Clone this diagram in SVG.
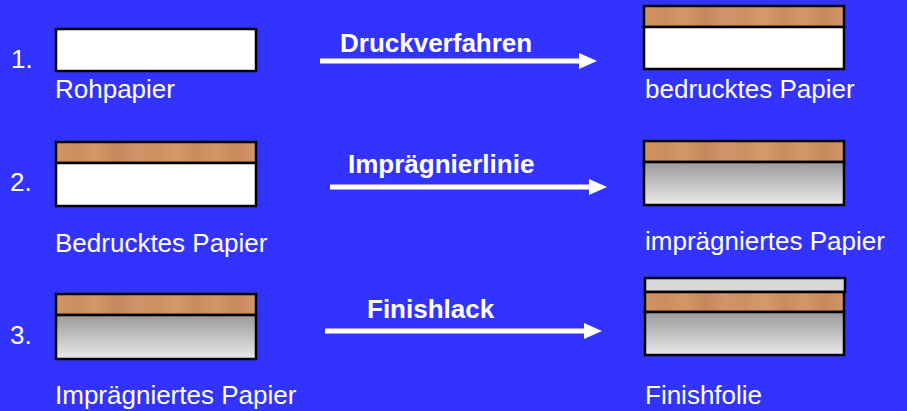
<svg xmlns="http://www.w3.org/2000/svg" width="907" height="411" viewBox="0 0 907 411">
<style>
.lbl{font-family:"Liberation Sans",Arial,sans-serif;font-size:26px;fill:#ffffff}
.num{font-family:"Liberation Sans",Arial,sans-serif;font-size:26px;fill:#ffffff}
.proc{font-family:"Liberation Sans",Arial,sans-serif;font-size:26px;font-weight:bold;fill:#ffffff}
.wood{fill:url(#woodGrad);stroke:#000;stroke-width:2.5}
.paper{fill:#ffffff;stroke:#000;stroke-width:2.5}
.imp{fill:url(#grayGrad);stroke:#000;stroke-width:2.5}
.film{fill:#d8d8d8;stroke:#000;stroke-width:2.5}
.conn{stroke:#ffffff;stroke-width:5;fill:none;marker-end:url(#arrow)}
</style>
<defs>
<linearGradient id="woodGrad" x1="0" y1="0" x2="1" y2="0">
<stop offset="0" stop-color="#d09465"/>
<stop offset="0.1" stop-color="#cc8d5f"/>
<stop offset="0.2" stop-color="#d39868"/>
<stop offset="0.3" stop-color="#c6875a"/>
<stop offset="0.4" stop-color="#d1956a"/>
<stop offset="0.5" stop-color="#cd9062"/>
<stop offset="0.6" stop-color="#d49a6b"/>
<stop offset="0.7" stop-color="#c98b5d"/>
<stop offset="0.8" stop-color="#d39769"/>
<stop offset="0.9" stop-color="#c8895b"/>
<stop offset="1" stop-color="#d19566"/>
</linearGradient>
<linearGradient id="grayGrad" x1="0" y1="0" x2="0" y2="1">
<stop offset="0" stop-color="#9a9a9a"/>
<stop offset="1" stop-color="#eaeaea"/>
</linearGradient>
<marker id="arrow" markerUnits="userSpaceOnUse" markerWidth="18" markerHeight="16" refX="2" refY="8" orient="auto">
<path d="M0,0 L18,8 L0,16 Z" fill="#ffffff"/>
</marker>
</defs>
<rect x="0" y="0" width="907" height="411" fill="#3333ff"/>

<g id="connectors">
<line class="conn" x1="320" y1="61" x2="581" y2="61"/>
<line class="conn" x1="330" y1="187" x2="591" y2="187"/>
<line class="conn" x1="325" y1="331" x2="586" y2="331"/>
<text class="proc" x="340" y="52">Druckverfahren</text>
<text class="proc" x="348" y="173">Imprägnierlinie</text>
<text class="proc" x="367" y="318">Finishlack</text>
</g>

<g id="step1-label"><text class="num" x="11" y="68">1.</text></g>
<g id="step2-label"><text class="num" x="10" y="191">2.</text></g>
<g id="step3-label"><text class="num" x="10" y="344">3.</text></g>

<g id="rohpapier">
<rect class="paper" x="56" y="29" width="200" height="42"/>
<text class="lbl" x="55" y="98">Rohpapier</text>
</g>

<g id="bedrucktes-papier-1">
<rect class="wood" x="644" y="6" width="200" height="21"/>
<rect class="paper" x="644" y="27" width="200" height="42"/>
<text class="lbl" x="645" y="98">bedrucktes Papier</text>
</g>

<g id="bedrucktes-papier-2">
<rect class="wood" x="56" y="142" width="200" height="21"/>
<rect class="paper" x="56" y="163" width="200" height="43"/>
<text class="lbl" x="55" y="252">Bedrucktes Papier</text>
</g>

<g id="impraegniertes-papier-1">
<rect class="wood" x="644" y="141" width="200" height="21"/>
<rect class="imp" x="644" y="162" width="200" height="43"/>
<text class="lbl" x="645" y="250">imprägniertes Papier</text>
</g>

<g id="impraegniertes-papier-2">
<rect class="wood" x="56" y="294" width="200" height="21"/>
<rect class="imp" x="56" y="315" width="200" height="44"/>
<text class="lbl" x="55" y="404">Imprägniertes Papier</text>
</g>

<g id="finishfolie">
<rect class="film" x="645" y="278" width="200" height="14"/>
<rect class="wood" x="645" y="292" width="199" height="20"/>
<rect class="imp" x="645" y="312" width="199" height="43"/>
<text class="lbl" x="645" y="404">Finishfolie</text>
</g>
</svg>
